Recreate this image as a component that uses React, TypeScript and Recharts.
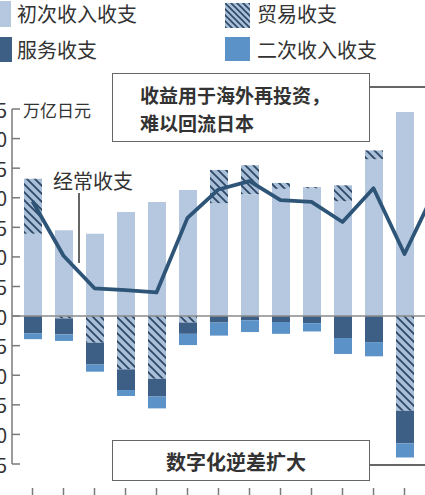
import React from 'react';
import { ComposedChart, Bar, Line, XAxis, YAxis, ReferenceLine } from 'recharts';

const years = ['2010', '2011', '2012', '2013', '2014', '2015', '2016', '2017', '2018', '2019', '2020', '2021', '2022', '2023'];
const primaryIncome = [13.9, 14.5, 13.9, 17.6, 19.3, 21.3, 19.1, 20.6, 21.5, 21.6, 19.4, 26.5, 34.5, 34.9];
const tradeBalance = [9.3, -0.4, -4.5, -9.0, -10.6, -1.1, 5.6, 4.9, 1.0, 0.2, 2.7, 1.5, -16.0, -6.6];
const servicesBalance = [-2.9, -2.7, -3.7, -3.5, -3.0, -1.9, -1.1, -0.7, -1.0, -1.2, -3.7, -4.4, -5.5, -2.9];
const secondaryIncome = [-1.0, -1.1, -1.2, -1.0, -2.0, -1.9, -2.2, -2.0, -2.0, -1.4, -2.7, -2.4, -2.4, -4.1];
const currentAccount = [19.4, 10.2, 4.7, 4.4, 4.0, 16.6, 21.4, 22.8, 19.6, 19.3, 15.9, 21.6, 10.5, 21.4];
const yTicks = [-25, -20, -15, -10, -5, 0, 5, 10, 15, 20, 25, 30, 35];

const seriesNames = {
  primary: '初次收入收支',
  trade: '贸易收支',
  services: '服务收支',
  secondary: '二次收入收支',
  ca: '经常收支',
};
const unitLabel = '万亿日元';
const noteTop = ['收益用于海外再投资，', '难以回流日本'];
const noteBottom = '数字化逆差扩大';

const C_PRIMARY = '#b5c8df';
const C_HATCH_BG = '#a9bfd8';
const C_HATCH_LINE = '#2c4767';
const C_SERVICES = '#3d5f86';
const C_SECONDARY = '#5b92c8';
const C_LINE = '#2e5578';
const C_TEXT = '#333333';
const C_AXIS = '#7a7a7a';

const data = years.map((y, i) => ({
  year: y,
  primary: primaryIncome[i],
  trade: tradeBalance[i],
  services: servicesBalance[i],
  secondary: secondaryIncome[i],
  ca: currentAccount[i],
}));

const FONT = '"Noto Sans CJK SC", "Noto Sans", sans-serif';

const YTick = (props: any) => {
  const { x, y, payload } = props;
  return (
    <g>
      <line x1={x + 5} x2={x + 13} y1={y} y2={y} stroke={C_AXIS} strokeWidth={1.5} />
      <text x={x} y={y} textAnchor="end" dominantBaseline="central" fontSize={20} fill={C_TEXT} fontFamily={FONT}>
        {payload.value}
      </text>
    </g>
  );
};

const XTick = (props: any) => {
  const { x, y } = props;
  return <line x1={x} x2={x} y1={y} y2={y + 8} stroke={C_AXIS} strokeWidth={1.5} />;
};

const HatchSwatch = ({ w, h }: { w: number; h: number }) => (
  <svg width={w} height={h} style={{ display: 'block' }}>
    <defs>
      <pattern id="hatchLegend" patternUnits="userSpaceOnUse" width={6} height={6}>
        <rect width={6} height={6} fill={C_HATCH_BG} />
        <path d="M-1,-1 L7,7 M-1,5 L1,7 M5,-1 L7,1" stroke={C_HATCH_LINE} strokeWidth={1.6} />
      </pattern>
    </defs>
    <rect width={w} height={h} fill="url(#hatchLegend)" />
  </svg>
);

const abs = (left: number, top: number, extra: any = {}) => ({ position: 'absolute' as const, left, top, ...extra });

export default function App() {
  return (
    <div style={{ position: 'fixed', left: 0, top: 0, width: 425, height: 495, overflow: 'hidden', background: '#fff', fontFamily: FONT, color: C_TEXT }}>
      {/* Legend */}
      <div style={abs(-14, 1, { width: 25, height: 26, background: C_PRIMARY })} />
      <div style={abs(17, 4, { fontSize: 20, lineHeight: '20px', whiteSpace: 'nowrap' })}>{seriesNames.primary}</div>
      <div style={abs(225, 3)}><HatchSwatch w={25} h={25} /></div>
      <div style={abs(257, 4, { fontSize: 20, lineHeight: '20px', whiteSpace: 'nowrap' })}>{seriesNames.trade}</div>
      <div style={abs(-13, 37, { width: 25, height: 25, background: C_SERVICES })} />
      <div style={abs(17, 40, { fontSize: 20, lineHeight: '20px', whiteSpace: 'nowrap' })}>{seriesNames.services}</div>
      <div style={abs(225, 37, { width: 25, height: 24, background: C_SECONDARY })} />
      <div style={abs(257, 40, { fontSize: 20, lineHeight: '20px', whiteSpace: 'nowrap' })}>{seriesNames.secondary}</div>

      <div style={abs(-40, 0)}>
        <ComposedChart
          width={491}
          height={500}
          data={data}
          stackOffset="sign"
          margin={{ top: 109, right: 0, bottom: 6, left: 0 }}
        >
          <defs>
            <pattern id="hatchBar" patternUnits="userSpaceOnUse" width={8} height={8}>
              <rect width={8} height={8} fill={C_HATCH_BG} />
              <path d="M-1,-1 L9,9 M-1,7 L1,9 M7,-1 L9,1" stroke={C_HATCH_LINE} strokeWidth={1.8} />
            </pattern>
          </defs>
          <XAxis
            dataKey="year"
            axisLine={false}
            tickLine={false}
            tickSize={0}
            tickMargin={24}
            height={30}
            interval={0}
            padding={{ left: 5, right: 0 }}
            tick={<XTick />}
          />
          <YAxis
            type="number"
            domain={[-25, 35]}
            ticks={yTicks}
            width={52}
            tickSize={0}
            tickMargin={5}
            tickLine={false}
            axisLine={{ stroke: C_AXIS, strokeWidth: 1.5 }}
            tick={<YTick />}
            interval={0}
          />
          <Bar dataKey="primary" name={seriesNames.primary} stackId="s" fill={C_PRIMARY} barSize={18} isAnimationActive={false} />
          <Bar dataKey="trade" name={seriesNames.trade} stackId="s" fill="url(#hatchBar)" barSize={18} isAnimationActive={false} />
          <Bar dataKey="services" name={seriesNames.services} stackId="s" fill={C_SERVICES} barSize={18} isAnimationActive={false} />
          <Bar dataKey="secondary" name={seriesNames.secondary} stackId="s" fill={C_SECONDARY} barSize={18} isAnimationActive={false} />
          <ReferenceLine y={0} stroke="#8a8a8a" strokeWidth={1.5} />
          <Line
            dataKey="ca"
            name={seriesNames.ca}
            type="linear"
            stroke={C_LINE}
            strokeWidth={3.8}
            strokeLinejoin="round"
            dot={false}
            activeDot={false}
            isAnimationActive={false}
          />
        </ComposedChart>
      </div>

      {/* Unit label */}
      <div style={abs(23, 101, { fontSize: 17, lineHeight: '17px', whiteSpace: 'nowrap' })}>{unitLabel}</div>

      {/* Current account label + pointer */}
      <div style={abs(53, 171, { fontSize: 20, lineHeight: '20px', whiteSpace: 'nowrap' })}>{seriesNames.ca}</div>
      <div style={abs(78, 193, { width: 1.5, height: 70, background: '#666' })} />

      {/* Top note box */}
      <div style={abs(112, 73, { width: 258, height: 69, boxSizing: 'border-box', border: '1.5px solid #666', background: '#fff' })} />
      <div style={abs(140, 81, { fontSize: 19, lineHeight: '27.5px', fontWeight: 700, whiteSpace: 'nowrap' })}>
        {noteTop[0]}
        <br />
        {noteTop[1]}
      </div>
      <div style={abs(370, 86, { width: 60, height: 1.5, background: '#666' })} />

      {/* Bottom note box */}
      <div style={abs(112, 440, { width: 258, height: 41, boxSizing: 'border-box', border: '1.5px solid #666', background: '#fff' })} />
      <div style={abs(166, 452, { fontSize: 20, lineHeight: '20px', fontWeight: 700, whiteSpace: 'nowrap' })}>{noteBottom}</div>
      <div style={abs(370, 464, { width: 60, height: 1.5, background: '#666' })} />
    </div>
  );
}
